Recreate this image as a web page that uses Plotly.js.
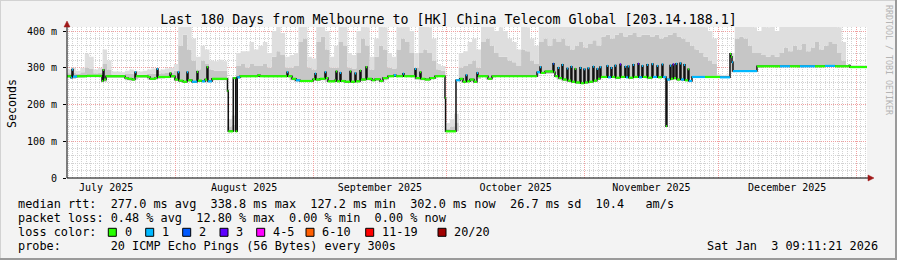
<!DOCTYPE html>
<html><head><meta charset="utf-8">
<script src="https://cdn.plot.ly/plotly-3.0.1.min.js"></script>
<style>html,body{margin:0;padding:0;background:#f3f3f3}#c{width:897px;height:260px}</style>
</head><body><div id="c"></div>
<script>
// ---------- data ----------
const xStart = '2025-07-07 17:00:00';
const xEnd   = '2026-01-03 10:00:00';
const tEnd = 179.71; // days from xStart to xEnd

// median rtt breakpoints: day offset from xStart, value (ms), loss bucket
const medT = [0.00,0.90,1.12,1.35,2.25,4.49,7.86,8.09,8.31,8.76,
  13.03,13.70,14.60,15.27,15.50,18.19,18.64,19.77,20.21,20.44,
  23.13,23.36,24.26,24.93,25.16,26.05,26.95,27.18,28.08,29.20,
  29.42,30.32,31.00,31.44,31.67,32.57,36.05,36.23,37.35,37.89,
  38.25,38.86,42.90,43.35,49.42,49.64,50.54,51.44,52.33,55.25,
  55.71,55.93,56.83,57.95,58.18,58.63,60.20,60.42,60.65,61.32,
  61.55,62.45,63.57,63.79,64.69,64.92,65.81,66.04,67.16,67.39,
  68.51,69.18,70.31,70.98,72.10,73.45,73.90,75.47,75.70,78.17,
  78.40,79.29,79.52,80.41,81.54,82.66,84.91,85.04,87.38,88.27,
  88.95,89.62,89.85,90.52,91.42,92.09,92.32,94.57,95.46,105.58,
  106.25,106.47,107.37,109.17,109.39,109.62,
  110.29,110.51,111.18,111.41,112.30,112.53,113.20,113.42,114.10,114.32,
  115.22,115.45,116.12,116.35,117.02,117.24,118.14,118.37,119.04,119.27,
  119.72,119.94,121.29,121.52,122.19,122.42,123.09,123.31,124.21,124.44,
  125.33,125.56,126.01,126.23,127.13,127.36,128.26,128.48,129.15,129.38,
  130.28,130.50,131.40,131.63,132.53,132.75,133.65,133.87,134.55,134.77,
  135.45,135.67,136.12,136.35,136.80,137.02,137.69,137.92,138.59,138.82,
  139.49,139.71,140.39,143.31,146.68,148.93,149.15,149.38,149.60,154.99,
  160.16,162.41,164.65,168.02,170.27,172.51,175.66,175.88];
const medV = [277,273,295,276,277,278,264,294,268,277,
  272,270,268,288,277,275,270,272,297,275,
  285,277,268,288,265,262,288,266,262,289,
  265,263,268,302,263,270,237,127,272,127,
  274,277,280,277,288,277,270,266,264,269,
  284,268,270,288,272,263,266,290,263,286,
  264,262,290,262,285,263,292,268,302,270,
  266,269,264,272,277,280,277,284,277,297,
  272,288,270,268,272,277,218,127,266,270,
  262,280,263,268,262,286,277,270,277,288,
  302,286,290,311,288,277,
  300,272,308,268,298,265,303,262,297,260,
  300,258,296,260,299,262,303,265,297,270,
  302,275,305,274,300,275,306,273,309,275,
  303,274,304,273,308,275,311,274,305,275,
  308,273,310,275,305,274,309,275,141,268,
  306,270,309,272,311,268,312,268,308,266,
  296,264,275,275,274,338,330,315,291,304,
  304,304,304,304,305,304,306,302];
const medL = [0,1,1,1,0,0,0,0,0,0,
  0,0,0,1,0,0,0,0,1,0,
  0,0,0,1,0,0,1,0,1,0,
  0,1,0,0,1,0,0,0,0,0,
  1,0,0,0,1,0,0,1,0,0,
  1,0,0,1,0,0,0,0,0,1,
  0,0,0,0,1,0,0,0,0,0,
  0,0,0,0,0,1,0,1,0,1,
  0,0,0,0,0,0,0,0,1,0,
  0,1,0,0,0,1,0,0,0,1,
  1,0,0,2,0,0,
  1,0,1,0,1,0,1,0,0,0,
  1,0,1,0,1,0,1,0,1,0,
  1,0,1,1,1,0,1,0,3,0,
  1,1,1,0,1,0,3,1,1,0,
  1,0,1,1,1,0,1,1,0,1,
  1,0,3,0,1,0,1,1,1,0,
  0,1,1,0,1,0,0,1,1,0,
  1,0,1,0,1,0,0,0];

// daily smoke (ping spread): bottom, inner band top, outer top (ms)
const smokeLo = [272,270,272,273,274,274,274,274,262,272,
  272,272,272,266,265,268,272,272,268,268,
  270,271,272,272,264,262,260,262,260,262,
  262,260,265,266,266,266,127,127,270,274,
  274,275,275,275,274,274,274,274,274,274,
  266,262,262,262,262,264,264,266,261,262,
  261,261,260,260,260,260,264,266,264,264,
  262,266,274,276,276,276,275,274,268,266,
  266,268,270,275,275,127,127,127,262,260,
  262,262,270,276,270,272,276,276,276,276,
  276,276,276,276,276,276,284,284,284,284,
  268,265,262,260,258,256,258,260,263,268,
  272,272,272,271,272,272,271,272,272,272,
  271,272,272,272,268,266,268,266,265,263,
  272,273,273,273,273,273,273,272,272,288,
  289,289,289,289,289,300,302,302,302,302,
  302,302,302,302,302,302,302,302,302,302,
  302,302,302,302,302,302,302,302,302,302];
const smokeMid = [285,286,284,288,300,298,285,286,310,295,
  282,282,281,283,284,282,281,282,283,284,
  284,285,286,287,292,360,390,350,320,295,
  320,310,295,292,292,292,140,145,305,310,
  300,310,305,305,310,300,330,345,335,300,
  300,305,370,380,300,295,370,385,350,300,
  300,370,360,300,298,340,380,360,295,330,
  360,350,300,298,350,380,370,340,300,340,
  350,340,320,295,292,135,140,150,300,305,
  310,320,300,370,380,360,340,330,330,320,
  315,305,350,345,320,310,370,380,360,380,
  370,380,360,350,360,370,355,365,375,360,
  385,390,380,390,395,385,390,395,385,390,
  390,385,390,380,385,390,395,385,380,370,
  360,350,340,330,320,310,278,277,278,320,
  380,385,380,360,340,340,335,330,335,330,
  340,355,345,360,350,365,345,355,370,350,
  360,370,365,340,320,305,304,304,304,303];
const smokeHi = [295,300,292,300,338,330,295,300,350,320,
  290,290,288,292,295,292,290,292,295,298,
  292,295,298,300,310,420,420,420,380,330,
  360,350,320,318,322,318,160,170,340,345,
  345,370,350,360,370,340,400,420,395,330,
  335,340,420,420,330,325,420,420,400,330,
  360,420,420,340,335,400,420,410,330,380,
  420,410,340,330,410,420,420,400,340,415,
  420,410,380,310,305,150,160,175,340,345,
  370,380,350,420,420,420,400,410,400,380,
  370,350,420,410,380,360,420,420,410,420,
  420,420,420,420,420,420,420,420,420,420,
  420,420,420,420,420,420,420,420,420,420,
  420,420,420,420,420,420,420,420,420,420,
  420,420,420,410,400,380,282,280,282,340,
  420,420,420,420,410,400,420,410,420,400,
  420,420,420,420,420,420,420,420,420,420,
  420,420,420,410,370,308,307,307,307,306];

const lossLabels = ['0','1','2','3','4-5','6-10','11-19','20/20'];
const lossColors = ['#26ff00','#00b8ff','#0059ff','#5e00ff','#ff00ff','#ff5e00','#ff0000','#a10000'];

const yTickVals = [0,100,200,300,400];
const yTickText = ['0','100 m','200 m','300 m','400 m'];

const titleText = 'Last 180 Days from Melbourne to [HK] China Telecom Global [203.14.188.1]';
const statRows = [
  'median rtt:  277.0 ms avg  338.8 ms max  127.2 ms min  302.0 ms now  26.7 ms sd  10.4   am/s',
  'packet loss: 0.48 % avg  12.80 % max  0.00 % min  0.00 % now',
  'loss color:',
  'probe:       20 ICMP Echo Pings (56 Bytes) every 300s'
];
const stampText = 'Sat Jan  3 09:11:21 2026';

// ---------- helpers ----------
const DAY = 86400000;
const t0ms = Date.parse(xStart.replace(' ','T') + 'Z');
const d2s = t => new Date(t0ms + t*DAY).toISOString().slice(0,19).replace('T',' ');
const nb = s => s.replace(/ /g, '\u00a0');
const MONO = 'DejaVu Sans Mono, monospace';

const L=67, R=867, TOP=27, BOT=178;
const px = x => (x-L)/(R-L);
const py = y => (BOT-y)/(BOT-TOP);

// ---------- traces ----------
const dayX = [], lo = [], mid = [], hi = [];
for (let i=0;i<smokeLo.length;i++){ dayX.push(d2s(i)); lo.push(smokeLo[i]); mid.push(smokeMid[i]); hi.push(smokeHi[i]); }
dayX.push(d2s(smokeLo.length)); lo.push(smokeLo[smokeLo.length-1]); mid.push(smokeMid[smokeMid.length-1]); hi.push(smokeHi[smokeHi.length-1]);

const traces = [
  {x:dayX, y:lo, mode:'lines', line:{width:0, shape:'hv'}, hoverinfo:'skip', showlegend:false},
  {x:dayX, y:mid, mode:'lines', line:{width:0, shape:'hv'}, fill:'tonexty', fillcolor:'#c6c6c6', hoverinfo:'skip', showlegend:false},
  {x:dayX, y:hi, mode:'lines', line:{width:0, shape:'hv'}, fill:'tonexty', fillcolor:'#dedede', hoverinfo:'skip', showlegend:false}
];

const mx = medT.map(d2s).concat([d2s(tEnd)]);
const my = medV.concat([medV[medV.length-1]]);
traces.push({x:mx, y:my, mode:'lines', line:{color:'#111111', width:1.5, shape:'hv'}, hoverinfo:'skip', showlegend:false});

for (let b=0;b<4;b++){
  const sx=[], sy=[];
  for (let i=0;i<medT.length;i++){
    if (medL[i]!==b) continue;
    const tn = i+1<medT.length ? medT[i+1] : tEnd;
    sx.push(d2s(medT[i]), d2s(tn), null); sy.push(medV[i], medV[i], null);
  }
  traces.push({x:sx, y:sy, mode:'lines', line:{color:lossColors[b], width:2.2}, connectgaps:false, hoverinfo:'skip', showlegend:false});
}

// ---------- annotations & shapes ----------
const ann = [];
const rowY = [204.3, 218.3, 232.3, 246.3];
statRows.forEach((s,i)=>ann.push({xref:'paper',yref:'paper',x:px(16),y:py(rowY[i]),xanchor:'left',yanchor:'middle',
  text:nb(s),showarrow:false,font:{family:MONO,size:11.85,color:'#000'}}));
ann.push({xref:'paper',yref:'paper',x:px(880),y:py(246.3),xanchor:'right',yanchor:'middle',text:nb(stampText),showarrow:false,font:{family:MONO,size:11.85,color:'#000'}});
ann.push({xref:'paper',yref:'paper',x:px(12),y:py(103),xanchor:'center',yanchor:'middle',text:'Seconds',textangle:-90,showarrow:false,font:{family:MONO,size:11.6,color:'#000'}});
ann.push({xref:'paper',yref:'paper',x:px(889),y:py(60),xanchor:'center',yanchor:'middle',text:nb('RRDTOOL / TOBI OETIKER'),textangle:90,showarrow:false,font:{family:MONO,size:8.3,color:'#b4b4b4'}});

const sqX = [108.3,145.7,182.7,220,256.7,306,365.7,438];
const shapes = [];
lossLabels.forEach((lab,i)=>{
  shapes.push({type:'rect',xref:'paper',yref:'paper',x0:px(sqX[i]),x1:px(sqX[i]+8),y0:py(236.3),y1:py(228.3),fillcolor:lossColors[i],line:{color:'#000',width:1}});
  ann.push({xref:'paper',yref:'paper',x:px(sqX[i]+14.2),y:py(232.3),xanchor:'left',yanchor:'middle',text:lab,showarrow:false,font:{family:MONO,size:11.85,color:'#000'}});
});
// axis extensions and arrows
shapes.push({type:'line',xref:'paper',yref:'paper',x0:px(67),x1:px(869),y0:py(178),y1:py(178),line:{color:'#000',width:1}});
shapes.push({type:'line',xref:'paper',yref:'paper',x0:px(67),x1:px(67),y0:py(178),y1:py(25),line:{color:'#000',width:1}});
shapes.push({type:'path',xref:'paper',yref:'paper',path:`M ${px(874)} ${py(178)} L ${px(868)} ${py(175)} L ${px(868)} ${py(181)} Z`,fillcolor:'#a01818',line:{color:'#a01818',width:0.5}});
shapes.push({type:'path',xref:'paper',yref:'paper',path:`M ${px(67)} ${py(21)} L ${px(64)} ${py(27)} L ${px(70)} ${py(27)} Z`,fillcolor:'#a01818',line:{color:'#a01818',width:0.5}});
// frame
shapes.push({type:'line',xref:'paper',yref:'paper',x0:px(0),x1:px(897),y0:py(0.5),y1:py(0.5),line:{color:'#d2d2d2',width:1}});
shapes.push({type:'line',xref:'paper',yref:'paper',x0:px(0.5),x1:px(0.5),y0:py(0),y1:py(260),line:{color:'#d2d2d2',width:1}});
shapes.push({type:'line',xref:'paper',yref:'paper',x0:px(0),x1:px(897),y0:py(259),y1:py(259),line:{color:'#9a9a9a',width:2}});
shapes.push({type:'line',xref:'paper',yref:'paper',x0:px(896),x1:px(896),y0:py(0),y1:py(260),line:{color:'#9a9a9a',width:2}});

const layout = {
  width:897, height:260,
  margin:{l:L, r:897-R, t:TOP, b:260-BOT, pad:0},
  paper_bgcolor:'#f3f3f3', plot_bgcolor:'#ffffff',
  title:{text:titleText, x:0.5, xref:'container', xanchor:'center', y:1-19/260, yref:'container', yanchor:'middle',
    font:{family:MONO, size:13.3, color:'#000'}},
  showlegend:false,
  xaxis:{type:'date', range:[xStart,xEnd], showline:false, zeroline:false,
    dtick:'M1', tick0:'2025-07-01', tickformat:'%B %Y', ticklabelmode:'period', ticks:'', ticklabelstandoff:2,
    showgrid:true, gridcolor:'#f0a0a0', griddash:'1px,1px', gridwidth:1,
    minor:{dtick:DAY, tick0:'2025-07-01', showgrid:true, gridcolor:'#d2d2d2', griddash:'1px,1px', gridwidth:1},
    tickfont:{family:MONO, size:10, color:'#000'}, fixedrange:true},
  yaxis:{range:[0,411], tickmode:'array', tickvals:yTickVals, ticktext:yTickText, showline:false, zeroline:false,
    ticks:'outside', ticklen:3, tickcolor:'#000', tickwidth:1, ticklabelstandoff:4,
    showgrid:true, gridcolor:'#f0a0a0', griddash:'1px,1px', gridwidth:1,
    minor:{tickmode:'linear', tick0:0, dtick:20, showgrid:true, gridcolor:'#d2d2d2', griddash:'1px,1px', gridwidth:1},
    tickfont:{family:MONO, size:10, color:'#000'}, fixedrange:true},
  annotations:ann, shapes:shapes
};

Plotly.newPlot('c', traces, layout, {staticPlot:true, displayModeBar:false});
</script></body></html>
